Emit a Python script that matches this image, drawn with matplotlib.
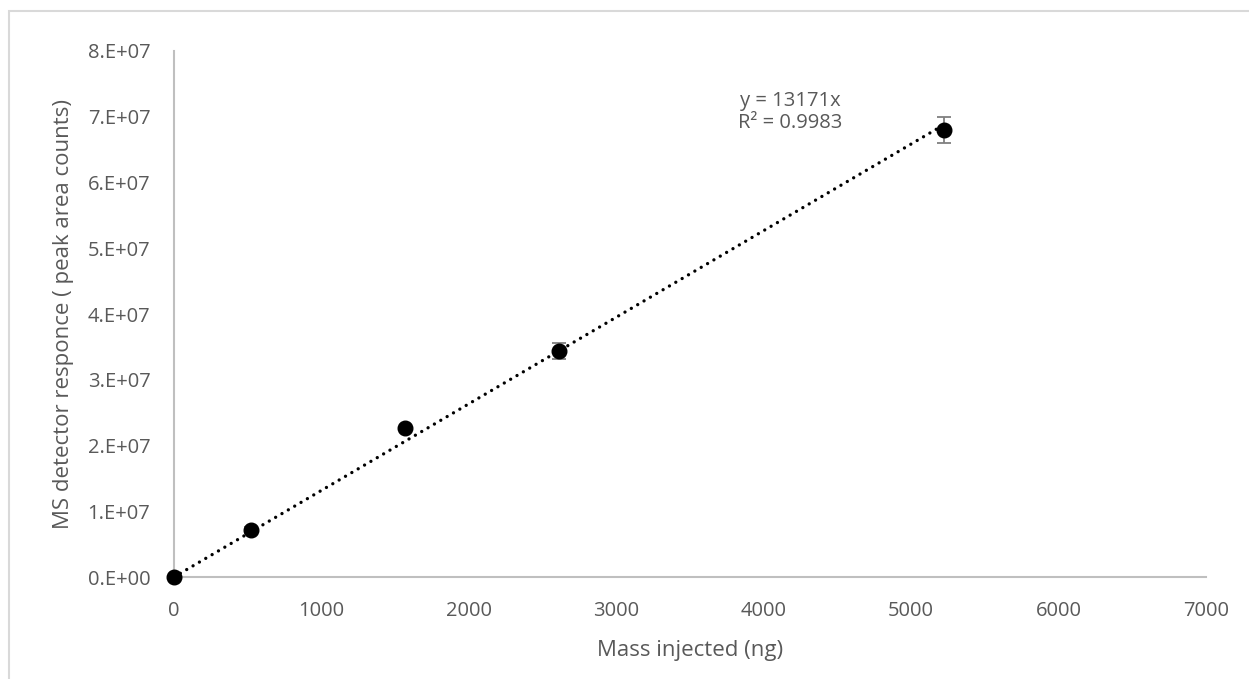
import matplotlib.pyplot as plt
from matplotlib.patches import Rectangle
from matplotlib.ticker import FuncFormatter

# data
mass_ng = [0, 522, 1566, 2610, 5220]
response = [0.0, 7.15e6, 2.265e7, 3.437e7, 6.80e7]
response_err = [1.0e5, 5.0e5, 2.0e5, 1.25e6, 2.0e6]
slope = 13171
r_squared = 0.9983
trend_x = [0, 5220]

x_ticks = [0, 1000, 2000, 3000, 4000, 5000, 6000, 7000]
y_ticks = [0, 1e7, 2e7, 3e7, 4e7, 5e7, 6e7, 7e7, 8e7]

grey_text = '#595959'
grey_axis = '#bfbfbf'
font = ['Open Sans', 'DejaVu Sans']


def sci_label(v, pos):
    if v == 0:
        return '0.E+00'
    exp = 7
    return '%d.E+%02d' % (round(v / 10 ** exp), exp)


def graph():
    plt.rcParams['font.family'] = font
    fig = plt.figure(figsize=(12.49, 6.79), dpi=100)
    ax = fig.add_axes([0.1393, 0.1502, 0.8263, 0.7747])

    # light chart-area border (cropped on right and bottom like the source)
    fig.patches.append(Rectangle((8.5 / 1249, -0.05), 1.1, 1 - 10.5 / 679 + 0.05,
                                 transform=fig.transFigure, fill=False,
                                 edgecolor='#d9d9d9', lw=1.5, clip_on=False))

    # trendline through origin
    ax.plot(trend_x, [slope * x for x in trend_x], color='black', lw=2.4,
            linestyle=(0, (0.01, 2.2)), dash_capstyle='round', zorder=2,
            clip_on=False)

    pts = ax.errorbar(mass_ng, response, yerr=response_err, fmt='o', color='black',
                      markersize=10.5, ecolor='#7f7f7f', elinewidth=1.3, capsize=5,
                      capthick=1.3, zorder=3)
    pts[0].set_clip_on(False)

    ax.text(4180, 7.07e7, 'y = %dx\nR² = %.4f' % (slope, r_squared),
            ha='center', va='center', fontsize=14.5, color=grey_text,
            linespacing=1.15)

    ax.set_xlim(0, 7000)
    ax.set_ylim(0, 8e7)
    ax.set_xticks(x_ticks)
    ax.set_yticks(y_ticks)
    ax.yaxis.set_major_formatter(FuncFormatter(sci_label))
    ax.tick_params(length=0, labelsize=14.5, labelcolor=grey_text)
    ax.tick_params(axis='y', pad=17)
    ax.tick_params(axis='x', pad=17)

    for side in ['top', 'right']:
        ax.spines[side].set_visible(False)
    for side in ['left', 'bottom']:
        ax.spines[side].set_color(grey_axis)
        ax.spines[side].set_linewidth(1.5)

    ax.set_xlabel('Mass injected (ng)', fontsize=16, color=grey_text, labelpad=14)
    ax.set_ylabel('MS detector responce ( peak area counts)', fontsize=16,
                  color=grey_text, labelpad=10)

    fig.savefig('out.png', dpi=100)


if __name__ == '__main__':
    graph()
